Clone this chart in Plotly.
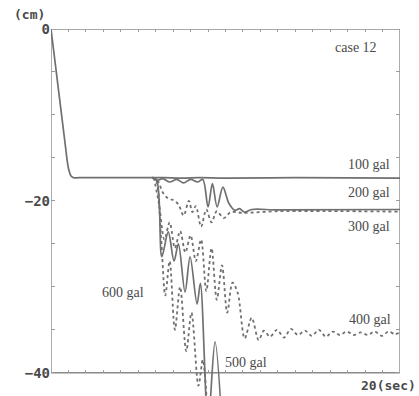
import plotly.graph_objects as go

# ---- data (time in sec, displacement in cm) ----
t_100 = [0, 0.8, 1.0, 1.15, 1.3, 1.6, 5.8, 6.5, 7.5, 8.5, 10, 14, 20]
d_100 = [0, -13.2, -16.2, -17.1, -17.3, -17.3, -17.3, -17.3, -17.35, -17.3, -17.35, -17.3, -17.35]

t_200 = [5.8, 6.1, 6.4, 6.8, 7.2, 7.6, 8.0, 8.4, 8.7, 9.0, 9.25, 9.52, 9.85, 10.2, 10.55, 10.8, 11.1, 11.5, 13, 20]
d_200 = [-17.3, -17.6, -17.4, -17.8, -17.5, -17.9, -17.5, -17.8, -17.5, -20.7, -18.0, -20.7, -18.4, -20.3, -21.1, -20.9, -21.3, -21.0, -21.05, -21.0]

t_300 = [5.8, 6.1, 6.4, 6.7, 7.0, 7.3, 7.6, 7.9, 8.1, 8.3, 8.6, 8.9, 9.2, 9.5, 9.9, 10.3, 11.0, 13, 20]
d_300 = [-17.3, -17.6, -19.0, -19.7, -19.9, -20.4, -21.7, -20.0, -21.3, -20.6, -23.0, -21.0, -22.5, -21.2, -22.0, -21.3, -21.4, -21.2, -21.25]

t_400 = [5.9, 6.2, 6.5, 6.8, 7.1, 7.4, 7.7, 8.0, 8.3, 8.6, 8.9, 9.2, 9.5, 9.8, 10.1, 10.4, 10.7, 11.1, 11.5, 11.9,
         12.2, 12.55, 12.95, 13.35, 13.75, 14.15, 14.55, 14.95, 15.35, 15.75, 16.15, 16.55, 16.95, 17.35, 17.75,
         18.15, 18.55, 18.95, 19.35, 19.7, 20]
d_400 = [-17.3, -20.5, -24.5, -22.5, -25.5, -23.5, -26.0, -24.0, -27.0, -24.5, -30.5, -25.5, -31.5, -27.5, -33.0, -29.5,
         -30.7, -36.0, -33.6, -36.2,
         -35.1, -35.8, -35.0, -35.9, -34.9, -35.6, -35.1, -35.7, -35.0, -35.8, -35.2, -35.6, -35.2, -35.6, -35.3,
         -35.6, -35.2, -35.7, -35.2, -35.5, -35.3]

t_500 = [5.8, 6.05, 6.35, 6.72, 7.05, 7.3, 7.68, 7.97, 8.37, 8.56, 9.0, 9.4, 9.9]
d_500 = [-17.3, -17.5, -26.5, -23.6, -27.0, -25.0, -30.6, -26.5, -32.0, -29.6, -46.0, -36.4, -50.0]

t_600 = [5.8, 6.0, 6.3, 6.55, 6.8, 7.1, 7.4, 7.75, 8.05, 8.45, 8.7, 9.0]
d_600 = [-17.3, -17.5, -24.0, -31.0, -27.0, -35.0, -30.0, -37.5, -33.0, -41.5, -38.5, -46.0]

labels = ["100 gal", "200 gal", "300 gal", "400 gal", "500 gal", "600 gal"]
label_t = [18.2, 18.2, 18.2, 18.3, 11.2, 4.15]
label_d = [-15.8, -19.0, -23.0, -33.8, -38.8, -30.6]

y_ticks = [-40, -35, -30, -25, -20, -15, -10, -5, 0]
y_ticktext = ["<b>\u221240</b>", "", "", "", "<b>\u221220</b>", "", "", "", "<b>0</b>"]
x_ticks = list(range(0, 21))

Y_MIN, Y_MAX = -42.7, 0.0
LINE = "#707070"
TXT = "#4a4a4a"

series = [
    (t_100, d_100, "solid"),
    (t_200, d_200, "solid"),
    (t_300, d_300, "dot"),
    (t_400, d_400, "dot"),
    (t_500, d_500, "solid"),
    (t_600, d_600, "dot"),
]

fig = go.Figure()
for (tt, dd, dash), name in zip(series, labels):
    fig.add_trace(go.Scatter(
        x=tt, y=dd, mode="lines", name=name,
        line=dict(color=LINE, width=1.7 if dash == "solid" else 1.8, dash=dash, shape="spline", smoothing=0.9),
        showlegend=False, hoverinfo="skip"))

# dummy trace for the top tick axis
fig.add_trace(go.Scatter(x=[None], y=[None], xaxis="x2", showlegend=False))

for txt, tx, ty in zip(labels, label_t, label_d):
    fig.add_annotation(x=tx, y=ty, text=txt, showarrow=False,
                       font=dict(family="Liberation Serif", size=14, color=TXT))

fig.add_annotation(x=17.5, y=-2.2, text="case 12", showarrow=False,
                   font=dict(family="Liberation Serif", size=14, color=TXT))

# frame of the plotting box (0..20 sec, 0..-40 cm)
fig.add_shape(type="rect", x0=0, x1=20, y0=-40, y1=0, xref="x", yref="y",
              line=dict(color="#8a8a8a", width=1.4), layer="below")

pos = (-40 - Y_MIN) / (Y_MAX - Y_MIN)

fig.add_annotation(xref="paper", yref="paper", x=1.0, y=pos, xanchor="center", yanchor="top",
                   xshift=-12, yshift=-3, text="<b>20(sec)</b>", showarrow=False,
                   font=dict(family="DejaVu Sans Mono", size=13, color=TXT))
fig.add_annotation(xref="paper", yref="paper", x=0, y=1, xanchor="right", yanchor="bottom",
                   xshift=-4, yshift=5, text="<b>(cm)</b>", showarrow=False,
                   font=dict(family="DejaVu Sans Mono", size=13, color=TXT))

fig.update_layout(
    width=419, height=396,
    margin=dict(l=51, r=19, t=29, b=0),
    paper_bgcolor="white", plot_bgcolor="white",
    xaxis=dict(range=[0, 20], anchor="free", position=pos, tickvals=x_ticks, ticks="inside",
               ticklen=3, tickcolor="#9a9a9a", showticklabels=False, showgrid=False,
               zeroline=False, showline=False),
    xaxis2=dict(range=[0, 20], overlaying="x", side="top", anchor="y", tickvals=x_ticks,
                ticks="inside", ticklen=3, tickcolor="#9a9a9a", showticklabels=False,
                showgrid=False, zeroline=False, showline=False),
    yaxis=dict(range=[Y_MIN, Y_MAX], tickvals=y_ticks, ticktext=y_ticktext, ticks="inside",
               ticklen=4, tickcolor="#9a9a9a", mirror="ticks", showgrid=False, zeroline=False,
               showline=False, tickfont=dict(family="DejaVu Sans Mono", size=14, color=TXT)),
)

fig.write_html("out.html")
